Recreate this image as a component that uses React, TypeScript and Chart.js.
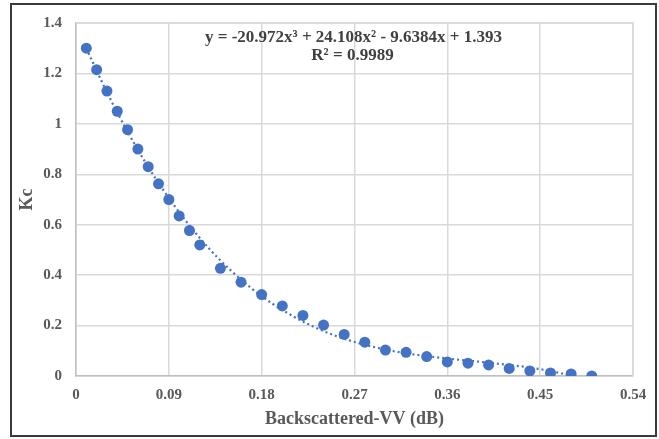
import React, { useEffect, useRef } from "react";
import { Chart, registerables } from "chart.js";

Chart.register(...registerables);

// Backscattered-VV (dB) sample positions
const backscatterVV = [
  0.01, 0.02, 0.03, 0.04, 0.05, 0.06, 0.07, 0.08, 0.09, 0.1, 0.11, 0.12,
  0.14, 0.16, 0.18, 0.2, 0.22, 0.24, 0.26, 0.28, 0.3, 0.32, 0.34, 0.36,
  0.38, 0.4, 0.42, 0.44, 0.46, 0.48, 0.5,
];
// Kc observed values
const kcValues = [
  1.3, 1.215, 1.13, 1.05, 0.977, 0.9, 0.83, 0.762, 0.7, 0.635, 0.577, 0.52,
  0.427, 0.372, 0.323, 0.278, 0.24, 0.202, 0.165, 0.134, 0.103, 0.094, 0.077,
  0.056, 0.051, 0.044, 0.03, 0.02, 0.012, 0.008, 0.0,
];
// Polynomial trendline (dotted)
const trendX = [
  0.01, 0.03, 0.05, 0.07, 0.09, 0.11, 0.13, 0.15, 0.17, 0.19, 0.21, 0.23,
  0.25, 0.27, 0.29, 0.31, 0.33, 0.35, 0.37, 0.39, 0.41, 0.43, 0.45, 0.47, 0.49,
];
const trendY = [
  1.299, 1.125, 0.969, 0.829, 0.706, 0.597, 0.501, 0.419, 0.348, 0.288, 0.238,
  0.196, 0.162, 0.135, 0.114, 0.097, 0.084, 0.074, 0.065, 0.057, 0.048, 0.039,
  0.027, 0.011, -0.009,
];
const xTickValues = [0, 0.09, 0.18, 0.27, 0.36, 0.45, 0.54];
const yTickValues = [0, 0.2, 0.4, 0.6, 0.8, 1, 1.2, 1.4];
const equationText = "y = -20.972x\u00B3 + 24.108x\u00B2 - 9.6384x + 1.393";
const r2Text = "R\u00B2 = 0.9989";
const xTitle = "Backscattered-VV (dB)";
const yTitle = "Kc";

const BLUE = "#4472C4";
const SERIF = "'Liberation Serif', 'Times New Roman', serif";

export default function App() {
  const canvasRef = useRef<HTMLCanvasElement | null>(null);

  useEffect(() => {
    const canvas = canvasRef.current;
    if (!canvas) return;

    const equationPlugin = {
      id: "equationText",
      afterDatasetsDraw(chart: any) {
        const { ctx, chartArea } = chart;
        const cx = (chartArea.left + chartArea.right) / 2;
        ctx.save();
        ctx.fillStyle = "#404040";
        ctx.font = `bold 17px ${SERIF}`;
        ctx.textAlign = "center";
        ctx.textBaseline = "middle";
        ctx.fillText(equationText, cx - 1, chartArea.top + 15);
        ctx.fillText(r2Text, cx - 2, chartArea.top + 33);
        ctx.restore();
      },
    };

    const chart = new Chart(canvas, {
      type: "scatter",
      data: {
        datasets: [
          {
            label: "Kc",
            data: backscatterVV.map((x, i) => ({ x, y: kcValues[i] })),
            backgroundColor: BLUE,
            borderColor: BLUE,
            pointRadius: 5.5,
            pointBorderWidth: 0,
            showLine: false,
            order: 1,
          },
          {
            label: "Poly. (Kc)",
            type: "line",
            data: trendX.map((x, i) => ({ x, y: trendY[i] })),
            borderColor: BLUE,
            borderWidth: 2.2,
            borderDash: [2, 3],
            pointRadius: 0,
            fill: false,
            tension: 0.4,
            cubicInterpolationMode: "monotone",
            order: 2,
          } as any,
        ],
      },
      options: {
        animation: false,
        responsive: false,
        maintainAspectRatio: false,
        layout: { padding: { left: 0, right: 26, top: 20, bottom: 0 } },
        plugins: {
          legend: { display: false },
          tooltip: { enabled: false },
        },
        scales: {
          x: {
            type: "linear",
            min: 0,
            max: 0.54,
            afterFit: (scale: any) => {
              scale.height = 63;
            },
            afterBuildTicks: (scale: any) => {
              scale.ticks = xTickValues.map((v) => ({ value: v }));
            },
            ticks: {
              padding: 10,
              color: "#595959",
              font: { family: SERIF, size: 15, weight: "bold" },
              callback: (v: any) => (Number(v) === 0 ? "0" : Number(v).toFixed(2)),
            },
            grid: { color: "#d9d9d9", lineWidth: 1.5, drawTicks: false },
            border: { color: "#bfbfbf", width: 1.5 },
            title: {
              display: true,
              text: xTitle,
              color: "#595959",
              font: { family: SERIF, size: 18, weight: "bold" },
              padding: { top: 0, bottom: 9 },
            },
          },
          y: {
            type: "linear",
            min: 0,
            max: 1.4,
            afterFit: (scale: any) => {
              scale.width = 76;
            },
            afterBuildTicks: (scale: any) => {
              scale.ticks = yTickValues.map((v) => ({ value: v }));
            },
            ticks: {
              padding: 14,
              color: "#595959",
              font: { family: SERIF, size: 15, weight: "bold" },
              callback: (v: any) => String(Math.round(Number(v) * 10) / 10),
            },
            grid: { color: "#d9d9d9", lineWidth: 1.5, drawTicks: false },
            border: { color: "#bfbfbf", width: 1.5 },
            title: {
              display: true,
              text: yTitle,
              color: "#595959",
              font: { family: SERIF, size: 18, weight: "bold" },
              padding: { top: 17, bottom: 0 },
            },
          },
        },
      },
      plugins: [
        equationPlugin,
        {
          id: "plotBorder",
          beforeDatasetsDraw(chart: any) {
            const { ctx, chartArea } = chart;
            ctx.save();
            ctx.strokeStyle = "#d9d9d9";
            ctx.lineWidth = 1.5;
            ctx.beginPath();
            ctx.moveTo(chartArea.left, chartArea.top);
            ctx.lineTo(chartArea.right, chartArea.top);
            ctx.lineTo(chartArea.right, chartArea.bottom);
            ctx.stroke();
            ctx.restore();
          },
        },
      ],
    });

    return () => chart.destroy();
  }, []);

  return (
    <div
      style={{
        position: "fixed",
        left: 0,
        top: 0,
        width: 659,
        height: 439,
        background: "#ffffff",
      }}
    >
      <canvas ref={canvasRef} width={659} height={439} style={{ display: "block" }} />
      <div
        style={{
          position: "absolute",
          left: 10,
          top: 3,
          width: 647,
          height: 434,
          boxSizing: "border-box",
          border: "2px solid #3a3a3a",
          pointerEvents: "none",
        }}
      />
    </div>
  );
}
